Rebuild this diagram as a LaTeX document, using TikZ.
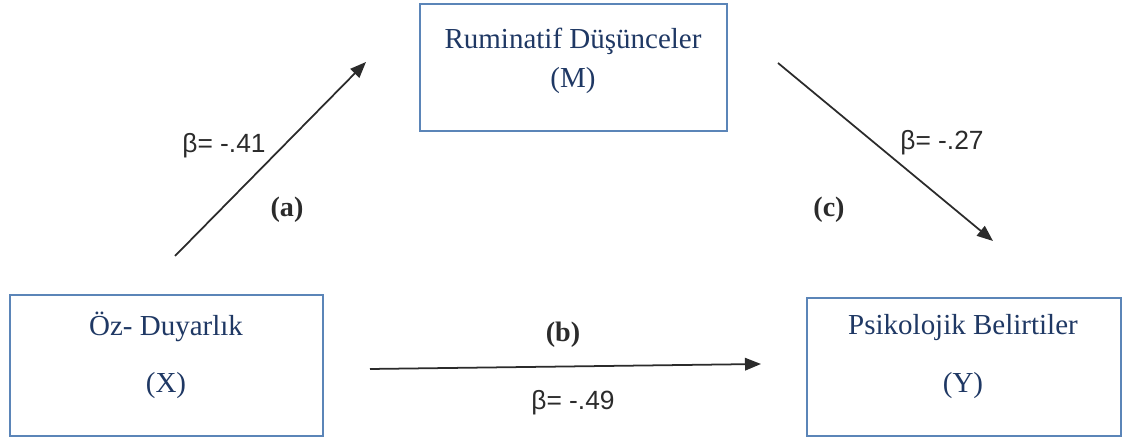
\documentclass[tikz,border=0pt]{standalone}
\usepackage{fontspec}
\setmainfont{Liberation Serif}
\newfontfamily\betafont{Liberation Sans}
\usetikzlibrary{arrows.meta}
\definecolor{boxborder}{HTML}{5B85B8}
\definecolor{boxtext}{HTML}{1F3864}
\definecolor{pathline}{HTML}{2B2B2B}
\tikzset{
  varbox/.style={rectangle, draw=boxborder, line width=1.1pt, fill=white},
  vartext/.style={anchor=base, font=\fontsize{16.5}{19}\selectfont, text=boxtext, inner sep=0pt},
  coef/.style={anchor=base, font=\betafont\fontsize{15}{18}\selectfont, text=pathline, inner sep=0pt},
  pathtag/.style={anchor=base, font=\fontsize{16}{19}\selectfont\bfseries, text=pathline, inner sep=0pt},
  effect/.style={-{Triangle[length=0.32cm, width=0.25cm]}, line width=1pt, draw=pathline}
}

\begin{document}
\begin{tikzpicture}
\useasboundingbox (0,0) rectangle (22.56,8.78);

%% Variables
\node[varbox, minimum width=6.14cm, minimum height=2.54cm] (medbox) at (11.47, 7.43) {};
\node[vartext] (medname) at (11.46, 7.80) {Ruminatif Düşünceler};
\node[vartext] (medsym)  at (11.46, 7.02) {(M)};

\node[varbox, minimum width=6.26cm, minimum height=2.82cm] (xbox) at (3.33, 1.47) {};
\node[vartext] (xname) at (3.32, 2.06) {Öz- Duyarlık};
\node[vartext] (xsym)  at (3.32, 0.92) {(X)};

\node[varbox, minimum width=6.28cm, minimum height=2.76cm] (ybox) at (19.28, 1.44) {};
\node[vartext] (yname) at (19.26, 2.08) {Psikolojik Belirtiler};
\node[vartext] (ysym)  at (19.26, 0.92) {(Y)};

%% Path ends (arrows float between the boxes)
\coordinate (aStart) at (3.50, 3.66);
\coordinate (aEnd)   at (7.32, 7.54);
\coordinate (cStart) at (15.56, 7.52);
\coordinate (cEnd)   at (19.86, 3.96);
\coordinate (bStart) at (7.40, 1.40);
\coordinate (bEnd)   at (15.22, 1.50);

%% Paths
\draw[effect] (aStart) -- (aEnd);
\draw[effect] (cStart) -- (cEnd);
\draw[effect] (bStart) -- (bEnd);

%% Coefficients and path labels
\node[coef]    (betaA) at (4.48, 5.72)  {β= -.41};
\node[pathtag] (tagA)  at (5.74, 4.44)  {(a)};
\node[coef]    (betaC) at (18.84, 5.78) {β= -.27};
\node[pathtag] (tagC)  at (16.58, 4.44) {(c)};
\node[pathtag] (tagB)  at (11.26, 1.94) {(b)};
\node[coef]    (betaB) at (11.46, 0.58) {β= -.49};

\end{tikzpicture}
\end{document}
